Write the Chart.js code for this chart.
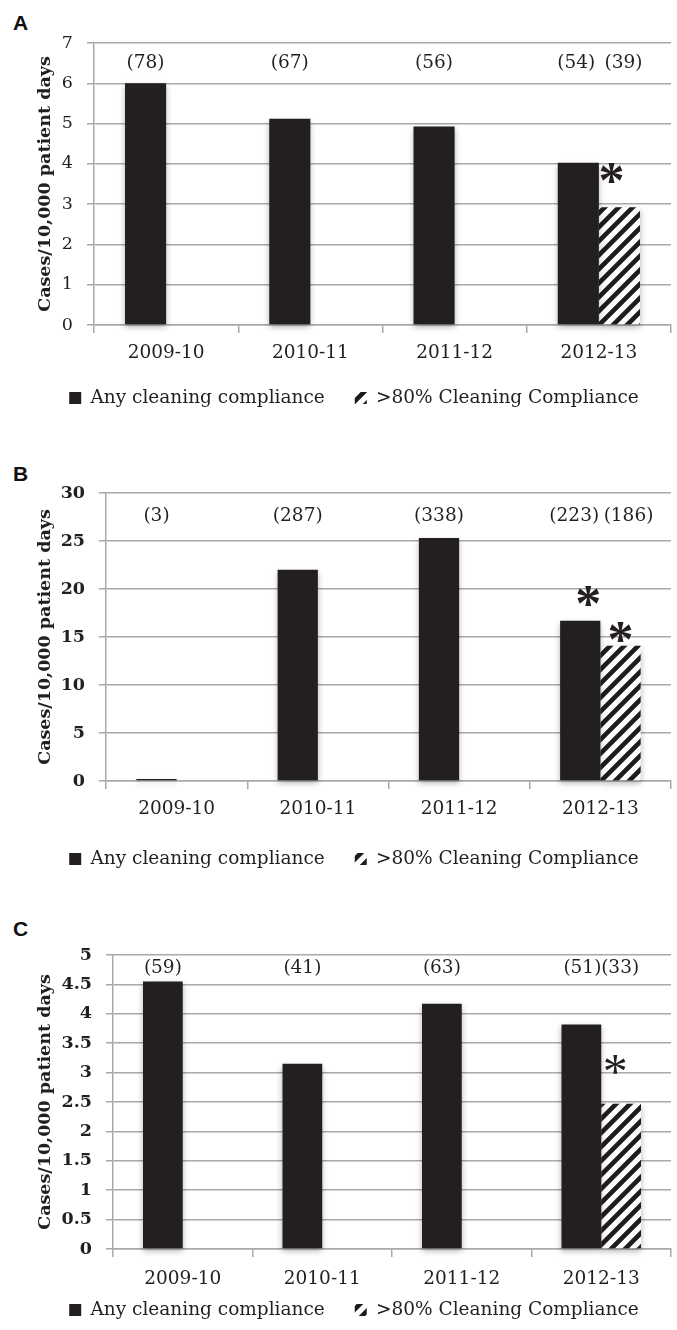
<!DOCTYPE html>
<html>
<head>
<meta charset="utf-8">
<script src="https://cdn.jsdelivr.net/npm/chart.js@4.4.1/dist/chart.umd.min.js"></script>
<style>
  body { margin: 0; background: #fff; width: 677px; height: 1330px; position: relative; overflow: hidden; }
  .panel { position: absolute; left: 0; width: 677px; }
  .letter { position: absolute; left: 13px; font: bold 21px "Liberation Sans", Arial, sans-serif; line-height: 21px; color: #111; }
</style>
</head>
<body>
<div class="letter" style="top:12px">A</div>
<div class="letter" style="top:463px">B</div>
<div class="letter" style="top:918px">C</div>
<div class="panel" style="top:0;height:430px"><canvas id="chartA"></canvas></div>
<div class="panel" style="top:430px;height:450px"><canvas id="chartB"></canvas></div>
<div class="panel" style="top:880px;height:450px"><canvas id="chartC"></canvas></div>
<script>
// data
const years = ['2009-10', '2010-11', '2011-12', '2012-13']
const seriesNames = ['Any cleaning compliance', '>80% Cleaning Compliance']
const yTitle = 'Cases/10,000 patient days'

// A
const anyA = [6.0, 5.12, 4.93, 4.03]
const highA = [null, null, null, 2.92]
const countsAnyA = ['(78)', '(67)', '(56)', '(54)']
const countsHighA = [null, null, null, '(39)']
const starsAnyA = [null, null, null, null]
const starsHighA = [null, null, null, 3.77]

// B
const anyB = [0.2, 22.0, 25.3, 16.7]
const highB = [null, null, null, 14.1]
const countsAnyB = ['(3)', '(287)', '(338)', '(223)']
const countsHighB = [null, null, null, '(186)']
const starsAnyB = [null, null, null, 19.3]
const starsHighB = [null, null, null, 15.5]

// C
const anyC = [4.55, 3.15, 4.17, 3.82]
const highC = [null, null, null, 2.47]
const countsAnyC = ['(59)', '(41)', '(63)', '(51)']
const countsHighC = [null, null, null, '(33)']
const starsAnyC = [null, null, null, null]
const starsHighC = [null, null, null, 3.13]

const ink = '#231f20'
const gridColor = '#a9a9a9'
const serif = '"DejaVu Serif", serif'

// diagonal stripes for the >80% series
function makeHatch() {
  const s = 14
  const c = document.createElement('canvas')
  c.width = s; c.height = s
  const g = c.getContext('2d')
  g.fillStyle = '#fff'
  g.fillRect(0, 0, s, s)
  g.strokeStyle = '#1c1c1c'
  g.lineWidth = 4.6
  g.beginPath()
  g.moveTo(-s / 2, s / 2); g.lineTo(s / 2, -s / 2)
  g.moveTo(0, s); g.lineTo(s, 0)
  g.moveTo(s / 2, s * 1.5); g.lineTo(s * 1.5, s / 2)
  g.stroke()
  return g.createPattern(c, 'repeat')
}
const hatch = makeHatch()

// soft shadow under the bars
const shadowPlugin = {
  id: 'barShadow',
  beforeDatasetsDraw(chart) {
    const c = chart.ctx
    c.save()
    c.shadowColor = 'rgba(0,0,0,0.3)'
    c.shadowBlur = 6
    c.shadowOffsetY = 3
  },
  afterDatasetsDraw(chart) {
    chart.ctx.restore()
  }
}

// put the legend row where the figure has it (x labels need their own room)
const legendRowPlugin = {
  id: 'legendRow',
  afterLayout(chart, args, opts) {
    const lg = chart.legend
    if (!lg) return
    const top = opts.rowY - lg.options.labels.padding - opts.half
    lg.top = top
    lg.height = 70
    lg.bottom = top + 70
  }
}

// case counts in brackets + significance stars
const notesPlugin = {
  id: 'notes',
  afterDatasetsDraw(chart, args, opts) {
    const { ctx } = chart
    const y = chart.scales.y
    ctx.save()
    ctx.fillStyle = ink
    ctx.textAlign = 'center'
    opts.counts.forEach((list, di) => {
      const meta = chart.getDatasetMeta(di)
      list.forEach((txt, i) => {
        if (!txt) return
        ctx.font = '18.5px ' + serif
        ctx.textBaseline = 'middle'
        const dx = i === list.length - 1 ? opts.countShift[di] : 0
        ctx.fillText(txt, meta.data[i].x + dx, y.getPixelForValue(opts.countLevel))
      })
    })
    opts.stars.forEach((list, di) => {
      const meta = chart.getDatasetMeta(di)
      list.forEach((v, i) => {
        if (v == null) return
        ctx.font = opts.starFont
        ctx.textBaseline = 'alphabetic'
        const m = ctx.measureText('*')
        const yc = y.getPixelForValue(v)
        ctx.fillText('*', meta.data[i].x + opts.starShift[di], yc + (m.actualBoundingBoxAscent - m.actualBoundingBoxDescent) / 2)
      })
    })
    ctx.restore()
  }
}

function buildChart(id, p) {
  new Chart(document.getElementById(id), {
    type: 'bar',
    data: {
      labels: years,
      datasets: [
        { label: seriesNames[0], data: p.any, backgroundColor: ink, borderWidth: 0, clip: false },
        { label: seriesNames[1], data: p.high, backgroundColor: hatch, borderWidth: 0, clip: false }
      ]
    },
    options: {
      responsive: true,
      maintainAspectRatio: false,
      animation: false,
      layout: { padding: { top: p.top, left: 37, right: 6, bottom: p.padBottom } },
      datasets: { bar: { barPercentage: 1, categoryPercentage: 0.57 } },
      scales: {
        x: {
          grid: { drawOnChartArea: false, drawTicks: true, tickLength: 8, color: gridColor, lineWidth: 1.5, offset: true },
          border: { color: gridColor, width: 1.5 },
          ticks: { font: { family: serif, size: 18.5 }, color: ink, padding: p.xPad },
          afterFit: s => { s.height = 40 }
        },
        y: {
          min: 0,
          max: p.max,
          ticks: {
            stepSize: p.step, autoSkip: false,
            font: { family: serif, size: 17.5, weight: p.tickWeight }, color: ink, padding: 14,
            callback: v => String(v)
          },
          grid: { color: gridColor, lineWidth: 1.5, tickLength: 7 },
          border: { color: gridColor, width: 1.5 },
          title: {
            display: true, text: yTitle, color: ink,
            font: { family: serif, size: 17.5, weight: 'bold', lineHeight: 1 },
            padding: { top: 0, bottom: 0 }
          },
          afterFit: s => { s.width = p.axisX - 37 }
        }
      },
      plugins: {
        legend: {
          position: 'bottom',
          maxHeight: 10,
          labels: { font: { family: serif, size: 18.5 }, color: ink, boxWidth: 12, boxHeight: 12, padding: 30 }
        },
        legendRow: { rowY: p.legendY, half: 9.25 },
        tooltip: { enabled: false },
        notes: {
          counts: p.counts,
          countLevel: p.countLevel,
          countShift: p.countShift,
          stars: p.stars,
          starFont: p.starFont,
          starShift: p.starShift
        }
      }
    },
    plugins: [shadowPlugin, notesPlugin, legendRowPlugin]
  })
}

buildChart('chartA', {
  any: anyA, high: highA, counts: [countsAnyA, countsHighA], stars: [starsAnyA, starsHighA],
  max: 7, step: 1, countLevel: 6.5, tickWeight: 'normal',
  top: 43, axisX: 94, xPad: 9, padBottom: 55, legendY: 398,
  countShift: [-2, 4],
  starFont: 'bold 52px "Liberation Serif", serif', starShift: [0, -8]
})
buildChart('chartB', {
  any: anyB, high: highB, counts: [countsAnyB, countsHighB], stars: [starsAnyB, starsHighB],
  max: 30, step: 5, countLevel: 27.6, tickWeight: 'bold',
  top: 63, axisX: 106, xPad: 9, padBottom: 49, legendY: 429,
  countShift: [-6, 8],
  starFont: 'bold 52px "Liberation Serif", serif', starShift: [8, 0]
})
buildChart('chartC', {
  any: anyC, high: highC, counts: [countsAnyC, countsHighC], stars: [starsAnyC, starsHighC],
  max: 5, step: 0.5, countLevel: 4.78, tickWeight: 'bold',
  top: 75, axisX: 113, xPad: 11, padBottom: 31, legendY: 430,
  countShift: [1, -1],
  starFont: '50px "Liberation Serif", serif', starShift: [0, -6]
})
</script>
</body>
</html>
